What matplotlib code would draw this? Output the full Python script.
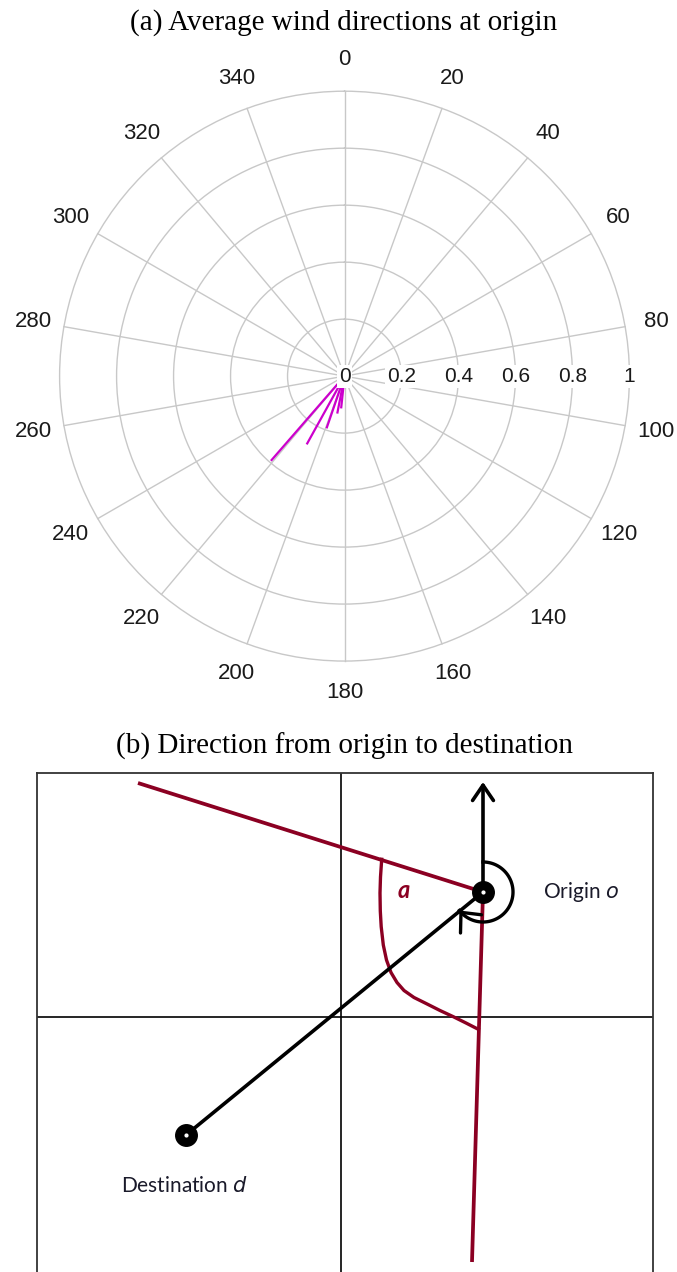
import numpy as np
import matplotlib.pyplot as plt

# wind vectors at the origin (bearing in degrees, normalised speed)
wind_dir = [221, 209, 199, 191, 186]
wind_speed = [0.39, 0.27, 0.19, 0.13, 0.11]

angle_ticks = list(range(0, 360, 20))
ring_values = [0.2, 0.4, 0.6, 0.8, 1.0]
ring_labels = ['0', '0.2', '0.4', '0.6', '0.8', '1']

# diagram coordinates (px, origin where the two grid lines cross)
origin_pt = (142, 125)
dest_pt = (-155, -118)
north_tip = (142, 235)
wind_start = (-203, 234)
wind_end = (131, -245)
angle_curve_x = [40.7, 39.5, 39.0, 39.3, 40.2, 42.3, 45.5, 50.0, 56.0, 63.0, 73.0, 85.7, 99.0, 112.3, 125.0, 137.3]
angle_curve_y = [157.7, 140.0, 124.0, 106.0, 90.3, 72.0, 57.0, 44.5, 34.5, 26.5, 19.5, 13.2, 6.5, 0.3, -6.0, -12.3]
arc_bearing = (0, 232)

fig = plt.figure(figsize=(6.77, 12.72), dpi=100)

# ---- (a) polar plot ----
fig.text(344 / 677, 1 - 23 / 1272, '(a) Average wind directions at origin', ha='center', va='center',
         fontsize=21, family='Liberation Serif')

ax = fig.add_axes([0.0879, 0.4803, 0.842, 0.448], projection='polar')
ax.set_theta_zero_location('N')
ax.set_theta_direction(-1)
ax.set_ylim(0, 1)
ax.set_yticks(ring_values)
ax.set_yticklabels([])
ax.set_xticks(np.deg2rad(angle_ticks))
ax.set_xticklabels([])
ax.grid(color='#c8c8c8', lw=1.0)
ax.spines['polar'].set_visible(False)
for gl in ax.yaxis.get_gridlines() + ax.xaxis.get_gridlines():
    gl.set_clip_on(False)

for a in angle_ticks:
    ax.text(np.deg2rad(a), 1.11, str(a), ha='center', va='center', fontsize=16,
            family='Liberation Sans', color='#1a1a1a', clip_on=False)

for r, lab in zip([0] + ring_values, ring_labels):
    ax.text(np.deg2rad(90), r, lab, ha='center', va='center', fontsize=15,
            family='Liberation Sans', color='#1a1a1a', zorder=6,
            bbox=dict(fc='white', ec='none', pad=1.5))

for d, s in zip(wind_dir, wind_speed):
    t = np.deg2rad(d)
    ax.plot([t, t], [0, s], color='#cc00cc', lw=1.6, zorder=4)

# ---- (b) direction diagram ----
fig.text(344 / 677, 1 - 746 / 1272, '(b) Direction from origin to destination', ha='center', va='center',
         fontsize=21, family='Liberation Serif')

ax2 = fig.add_axes([37 / 677, 0, 616 / 677, 499 / 1272])
ax2.set_xlim(-304, 312)
ax2.set_ylim(-255, 244)
ax2.set_xticks([])
ax2.set_yticks([])
for side in ['left', 'top', 'right']:
    ax2.spines[side].set_linewidth(1.3)
    ax2.spines[side].set_color('#333333')
ax2.spines['bottom'].set_visible(False)

ax2.axvline(0, color='black', lw=1.2)
ax2.axhline(0, color='black', lw=1.2)

red = '#8b0022'
ax2.plot([wind_start[0], origin_pt[0]], [wind_start[1], origin_pt[1]], color=red, lw=2.7,
         solid_capstyle='butt')
ax2.plot([origin_pt[0], wind_end[0]], [origin_pt[1], wind_end[1]], color=red, lw=2.7,
         solid_capstyle='butt')
ax2.plot(angle_curve_x, angle_curve_y, color=red, lw=2.4, solid_joinstyle='round')
ax2.text(63, 126, 'a', color=red, fontsize=17, fontweight='bold', fontstyle='italic',
         family='Lato', ha='center', va='center')

# path from origin to destination
ax2.plot([origin_pt[0], dest_pt[0]], [origin_pt[1], dest_pt[1]], color='black', lw=2.6)

# north arrow
ax2.annotate('', xy=north_tip, xytext=origin_pt,
             arrowprops=dict(arrowstyle='->,head_length=1.1,head_width=0.75', lw=2.6,
                             color='black', shrinkA=0, shrinkB=0, mutation_scale=10))

# bearing arc, clockwise from north
b = np.deg2rad(np.linspace(arc_bearing[0], arc_bearing[1], 120))
rad = 30
arc_x = origin_pt[0] + rad * np.sin(b)
arc_y = origin_pt[1] + rad * np.cos(b)
ax2.plot(arc_x, arc_y, color='black', lw=2.4)
ax2.annotate('', xy=(arc_x[-1], arc_y[-1]), xytext=(arc_x[-4], arc_y[-4]),
             arrowprops=dict(arrowstyle='->,head_length=1.1,head_width=1.0', lw=2.4,
                             color='black', shrinkA=0, shrinkB=0, mutation_scale=10))

for p in [origin_pt, dest_pt]:
    ax2.plot(*p, 'o', color='black', ms=15.5, zorder=5)
    ax2.plot(*p, 'o', color='white', ms=2, zorder=6)

ax2.text(202, 125, 'Origin $\\mathit{o}$', fontsize=15, family='Lato', color='#1a1a2a',
         ha='left', va='center')
ax2.text(-220, -169, 'Destination $\\mathit{d}$', fontsize=15, family='Lato', color='#1a1a2a',
         ha='left', va='center')

fig.savefig('out.png', dpi=100)
